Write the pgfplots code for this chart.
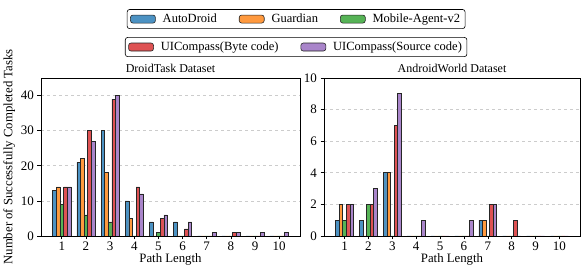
\documentclass[border=0pt]{standalone}
\usepackage{fontspec}
\setmainfont{Liberation Serif}
\usepackage{pgfplots}
\usepackage{pgfplotstable}
\pgfplotsset{compat=1.18}
\definecolor{cA}{RGB}{76,146,195}
\definecolor{cB}{RGB}{255,153,62}
\definecolor{cC}{RGB}{86,179,86}
\definecolor{cD}{RGB}{222,82,83}
\definecolor{cE}{RGB}{169,133,202}

\pgfplotstableread{
x A B C D E
1 13 14 9 14 14
2 21 22 6 30 27
3 30 18 4 39 40
4 10 5 0 14 12
5 4 0 1 5 6
6 4 0 0 2 4
7 0 0 0 0 1
8 0 0 0 1 1
9 0 0 0 0 1
10 0 0 0 0 1
}\droid

\pgfplotstableread{
x A B C D E
1 1 2 1 2 2
2 1 0 2 2 3
3 4 4 0 7 9
4 0 0 0 0 1
5 0 0 0 0 0
6 0 0 0 0 1
7 1 1 0 2 2
8 0 0 0 1 0
9 0 0 0 0 0
10 0 0 0 0 0
}\aworld

\pgfplotsset{
  base/.style={
    scale only axis, height=158pt, ybar, bar width=0.15,
    xmin=0.14, xmax=10.86, ymin=0, xtick={1,...,10},
    tick align=outside, xtick pos=bottom, ytick pos=left,
    ymajorgrids, grid style={dashed, black!20, line width=0.6pt},
    major tick length=3.5pt, tick style={black, line width=0.6pt},
    axis line style={line width=0.8pt},
    xlabel={Path Length},
    xlabel style={yshift=4pt},
    /pgf/number format/assume math mode=true,
    ticklabel style={font=\fontsize{13}{15}\selectfont},
    xticklabel style={yshift=1pt},
    label style={font=\fontsize{12.8}{15}\selectfont},
    title style={font=\fontsize{12}{14}\selectfont, yshift=-4pt},
    legend columns=3,
    legend image code/.code={\draw[##1] (0pt,-4pt) rectangle (25pt,4pt);},
    legend style={draw=black, rounded corners=2.5pt, line width=0.6pt, fill=white,
      anchor=center, inner xsep=3pt, inner ysep=2.5pt,
      font=\fontsize{12.5}{15}\selectfont,
      /tikz/every odd column/.append style={column sep=5pt},
      /tikz/every even column/.append style={column sep=20pt}},
  },
  bstyle/.style={draw=black!85, line width=0.6pt, fill=#1},
}

\begin{document}
\begin{tikzpicture}[font=\fontsize{12}{14}\selectfont]
\path[use as bounding box] (0,0) rectangle (581pt,270pt);
\begin{axis}[base, at={(41pt,34pt)}, anchor=south west, width=259pt,
  ymax=45, ytick={0,10,20,30,40},
  title={DroidTask Dataset},
  ylabel={Number of Successfully Completed Tasks},
  ylabel style={yshift=-1pt},
  legend style={at={(axis description cs:0.985,1.373)}}]
\addplot[bstyle=cA, bar shift=-0.3] table[x=x,y=A]{\droid};
\addplot[bstyle=cB, bar shift=-0.15] table[x=x,y=B]{\droid};
\addplot[bstyle=cC, bar shift=0] table[x=x,y=C]{\droid};
\addplot[bstyle=cD, bar shift=0.15, forget plot] table[x=x,y=D]{\droid};
\addplot[bstyle=cE, bar shift=0.3, forget plot] table[x=x,y=E]{\droid};
\legend{AutoDroid, Guardian, Mobile-Agent-v2}
\end{axis}
\begin{axis}[base, at={(324pt,34pt)}, anchor=south west, width=256pt,
  ymax=10, ytick={0,2,4,6,8,10},
  title={AndroidWorld Dataset},
  legend columns=2,
  legend style={at={(axis description cs:-0.109,1.196)}}]
\addplot[bstyle=cA, bar shift=-0.3, forget plot] table[x=x,y=A]{\aworld};
\addplot[bstyle=cB, bar shift=-0.15, forget plot] table[x=x,y=B]{\aworld};
\addplot[bstyle=cC, bar shift=0, forget plot] table[x=x,y=C]{\aworld};
\addplot[bstyle=cD, bar shift=0.15] table[x=x,y=D]{\aworld};
\addplot[bstyle=cE, bar shift=0.3] table[x=x,y=E]{\aworld};
\legend{UICompass(Byte code), UICompass(Source code)}
\end{axis}
\end{tikzpicture}
\end{document}
